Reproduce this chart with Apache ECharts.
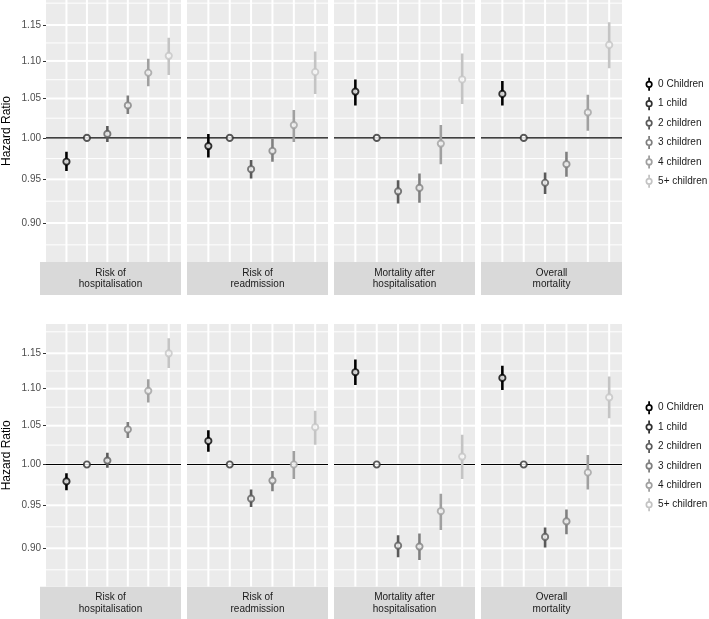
<!DOCTYPE html>
<html><head><meta charset="utf-8">
<script src="https://cdn.jsdelivr.net/npm/echarts@6/dist/echarts.min.js"></script>
<style>html,body{margin:0;padding:0;background:#fff}#c{width:709px;height:619px}</style>
</head><body><div id="c"></div>
<script>
// ---------- data ----------
const categories = ['0 Children', '1 child', '2 children', '3 children', '4 children', '5+ children'];
const outcomes = ['Risk of\nhospitalisation', 'Risk of\nreadmission', 'Mortality after\nhospitalisation', 'Overall\nmortality'];
const yTickLabels = ['0.90', '0.95', '1.00', '1.05', '1.10', '1.15'];
const xPositions = [1, 2, 3, 4, 5, 6];

// top row
const topHospHR = [0.971, 1.000, 1.005, 1.041, 1.084, 1.107];
const topHospLo = [0.960, 1.000, 0.995, 1.030, 1.066, 1.081];
const topHospHi = [0.983, 1.000, 1.015, 1.054, 1.103, 1.132];
const topReadHR = [0.990, 1.000, 0.962, 0.984, 1.016, 1.085];
const topReadLo = [0.976, 1.000, 0.951, 0.971, 0.995, 1.056];
const topReadHi = [1.005, 1.000, 0.973, 1.000, 1.035, 1.113];
const topMortHospHR = [1.059, 1.000, 0.936, 0.940, 0.993, 1.075];
const topMortHospLo = [1.041, 1.000, 0.922, 0.923, 0.968, 1.043];
const topMortHospHi = [1.075, 1.000, 0.949, 0.957, 1.016, 1.110];
const topMortHR = [1.056, 1.000, 0.946, 0.968, 1.032, 1.122];
const topMortLo = [1.041, 1.000, 0.933, 0.953, 1.009, 1.090];
const topMortHi = [1.073, 1.000, 0.958, 0.983, 1.055, 1.154];
// bottom row
const botHospHR = [0.979, 1.000, 1.005, 1.045, 1.097, 1.150];
const botHospLo = [0.968, 1.000, 0.996, 1.034, 1.081, 1.129];
const botHospHi = [0.989, 1.000, 1.015, 1.055, 1.113, 1.172];
const botReadHR = [1.030, 1.000, 0.958, 0.980, 1.000, 1.048];
const botReadLo = [1.016, 1.000, 0.948, 0.967, 0.982, 1.025];
const botReadHi = [1.044, 1.000, 0.969, 0.992, 1.017, 1.070];
const botMortHospHR = [1.123, 1.000, 0.903, 0.902, 0.943, 1.010];
const botMortHospLo = [1.105, 1.000, 0.890, 0.887, 0.921, 0.982];
const botMortHospHi = [1.141, 1.000, 0.915, 0.917, 0.964, 1.038];
const botMortHR = [1.115, 1.000, 0.913, 0.931, 0.990, 1.088];
const botMortLo = [1.098, 1.000, 0.901, 0.916, 0.969, 1.060];
const botMortHi = [1.132, 1.000, 0.924, 0.945, 1.012, 1.117];

// ---------- styles / layout ----------
const colors = ['#000000', '#303030', '#5a5a5a', '#7f7f7f', '#a0a0a0', '#c4c4c4'];
const FONT = 'Liberation Sans';
const PANEL_BG = '#ebebeb';
const colLeft = [40, 187, 334, 481];
const panelW = 141;
const X_MIN = 0, X_MAX = 6.6;
const MAJOR_W = 2, MINOR_W = 1;
const rows = [
  { top: 0, height: 262, stripH: 33, yMin: -0.1536, yMax: 0.1707, legendTop: 77.3,
    panels: [[topHospHR, topHospLo, topHospHi], [topReadHR, topReadLo, topReadHi],
             [topMortHospHR, topMortHospLo, topMortHospHi], [topMortHR, topMortLo, topMortHi]] },
  { top: 324, height: 262.7, stripH: 33, yMin: -0.1536, yMax: 0.1766, legendTop: 400.7,
    panels: [[botHospHR, botHospLo, botHospHi], [botReadHR, botReadLo, botReadHi],
             [botMortHospHR, botMortHospLo, botMortHospHi], [botMortHR, botMortLo, botMortHi]] }
];

// log-scale (natural log) transform
const T = v => Math.log(v);
const majorVals = yTickLabels.map(s => T(parseFloat(s)));
const firstStep = majorVals[1] - majorVals[0];
const minorVals = [majorVals[0] - firstStep / 2];
for (let i = 0; i < majorVals.length - 1; i++) minorVals.push((majorVals[i] + majorVals[i + 1]) / 2);
minorVals.push(majorVals[majorVals.length - 1] + firstStep / 2);

const grids = [], xAxes = [], yAxes = [], series = [], graphics = [], legends = [];
const iconPath = 'path://M3.1,0 L4.9,0 L4.9,3.0 L3.1,3.0 Z M3.1,10 L4.9,10 L4.9,13 L3.1,13 Z ' +
  'M4,2.9 A3.6,3.6 0 1,1 4,10.1 A3.6,3.6 0 1,1 4,2.9 Z M4,4.6 A1.9,1.9 0 1,0 4,8.4 A1.9,1.9 0 1,0 4,4.6 Z';

// Panel background as grey cells separated by white gaps = the grid lines.
function panelCellsSeries(g, row) {
  const xB = [X_MIN].concat(xPositions, [X_MAX]);
  const xW = [0].concat(xPositions.map(() => MAJOR_W), [0]);
  const yLines = minorVals.map(v => [v, MINOR_W]).concat(majorVals.map(v => [v, MAJOR_W]))
    .sort((a, b) => a[0] - b[0]);
  const yB = [row.yMin].concat(yLines.map(d => d[0]), [row.yMax]);
  const yW = [0].concat(yLines.map(d => d[1]), [0]);
  const cells = [];
  for (let i = 0; i < xB.length - 1; i++) {
    for (let j = 0; j < yB.length - 1; j++) {
      cells.push([(xB[i] + xB[i + 1]) / 2, (yB[j] + yB[j + 1]) / 2, i, j]);
    }
  }
  return { type: 'custom', xAxisIndex: g, yAxisIndex: g, z: 1, silent: true, animation: false,
    clip: false, data: cells, encode: { x: 0, y: 1 },
    renderItem: (params, api) => {
      const i = api.value(2), j = api.value(3);
      const pTL = api.coord([xB[i], yB[j + 1]]);
      const pBR = api.coord([xB[i + 1], yB[j]]);
      const x0 = pTL[0] + xW[i] / 2, x1 = pBR[0] - xW[i + 1] / 2;
      const y0 = pTL[1] + yW[j + 1] / 2, y1 = pBR[1] - yW[j] / 2;
      return { type: 'rect', shape: { x: x0, y: y0, width: Math.max(0, x1 - x0), height: Math.max(0, y1 - y0) },
        style: { fill: PANEL_BG } };
    } };
}

rows.forEach((row, r) => {
  row.panels.forEach((pan, c) => {
    const g = r * 4 + c;
    grids.push({ left: colLeft[c], top: row.top, width: panelW, height: row.height,
      show: true, backgroundColor: '#ffffff', borderWidth: 0, containLabel: false });
    xAxes.push({ type: 'value', gridIndex: g, min: X_MIN, max: X_MAX,
      axisLine: { show: false }, axisLabel: { show: false }, axisTick: { show: false },
      splitLine: { show: false }, splitArea: { show: false } });
    yAxes.push({ type: 'value', gridIndex: g, min: row.yMin, max: row.yMax,
      axisLine: { show: false },
      axisTick: { show: c === 0, customValues: majorVals, length: 3, lineStyle: { color: '#333333', width: 1 } },
      axisLabel: { show: c === 0, customValues: majorVals, margin: 5, fontSize: 10, color: '#4d4d4d', fontFamily: FONT,
        formatter: v => Math.exp(v).toFixed(2) },
      splitLine: { show: false }, splitArea: { show: false },
      name: c === 0 ? 'Hazard Ratio' : '', nameLocation: 'middle', nameGap: 33,
      nameTextStyle: { fontSize: 12, color: '#000000', fontFamily: FONT } });

    series.push(panelCellsSeries(g, row));

    // reference line at HR = 1
    series.push({ type: 'line', xAxisIndex: g, yAxisIndex: g, z: 7, silent: true, symbol: 'none',
      animation: false, lineStyle: { color: '#000000', width: 1.2, type: 'solid' },
      emphasis: { disabled: true }, data: [[X_MIN, T(1)], [X_MAX, T(1)]] });

    const [hr, lo, hi] = pan;
    categories.forEach((name, k) => {
      series.push({ type: 'line', name, xAxisIndex: g, yAxisIndex: g, z: 9, silent: true,
        symbol: 'none', animation: false,
        lineStyle: { color: colors[k], width: 2.6, cap: 'butt' },
        itemStyle: { color: colors[k] },
        data: [[xPositions[k], T(lo[k])], [xPositions[k], T(hi[k])]] });
      series.push({ type: 'scatter', name, xAxisIndex: g, yAxisIndex: g, z: 10, silent: true,
        symbol: 'circle', symbolSize: 6.2, animation: false,
        itemStyle: { color: '#ffffff', borderColor: colors[k], borderWidth: 1.9 },
        data: [[xPositions[k], T(hr[k])]] });
    });

    // facet strip
    const stripTop = row.top + row.height;
    graphics.push({ type: 'rect', silent: true, shape: { x: colLeft[c], y: stripTop, width: panelW, height: row.stripH },
      style: { fill: '#d9d9d9' } });
    graphics.push({ type: 'text', silent: true, x: colLeft[c] + panelW / 2, y: stripTop + row.stripH / 2,
      style: { text: outcomes[c], align: 'center', verticalAlign: 'middle', fill: '#1a1a1a',
        fontSize: 10, fontFamily: FONT, lineHeight: 11.5 } });
  });

  legends.push({ orient: 'vertical', left: 645.5, top: row.legendTop, padding: 0, itemWidth: 8, itemHeight: 13,
    itemGap: 5.4, selectedMode: false,
    textStyle: { fontSize: 10, color: '#1a1a1a', fontFamily: FONT, lineHeight: 14 },
    data: categories.map((name, k) => ({ name, icon: iconPath,
      itemStyle: { color: colors[k], borderWidth: 0 } })) });
});

const chart = echarts.init(document.getElementById('c'), null, { renderer: 'canvas' });
chart.setOption({
  animation: false,
  backgroundColor: '#ffffff',
  textStyle: { fontFamily: FONT },
  grid: grids, xAxis: xAxes, yAxis: yAxes, series, legend: legends,
  graphic: graphics
});
</script></body></html>
